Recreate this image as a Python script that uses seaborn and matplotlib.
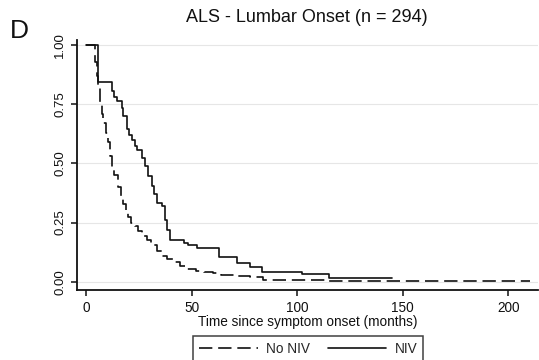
import numpy as np
import pandas as pd
import matplotlib
matplotlib.use("Agg")
import matplotlib.pyplot as plt
import seaborn as sns
from matplotlib.lines import Line2D

# Kaplan-Meier step data
no_niv_time = [0, 4.3, 5.0, 5.8, 6.8, 7.5, 8.2, 9.3, 10.6, 11.4, 12.2, 13.5, 15.3, 16.5,
               17.7, 19.0, 20.1, 21.5, 23.0, 24.5, 26.5, 28.8, 31.0, 33.5, 36.0, 38.3,
               41.0, 44.6, 48.0, 52.0, 56.0, 60.0, 64.0, 70.0, 77.8, 84.0, 115.0, 210.0]
no_niv_surv = [1.0, 0.93, 0.87, 0.82, 0.76, 0.71, 0.67, 0.63, 0.59, 0.53, 0.48, 0.45, 0.40, 0.36,
               0.33, 0.30, 0.275, 0.25, 0.235, 0.215, 0.195, 0.177, 0.155, 0.13, 0.11, 0.095,
               0.083, 0.066, 0.055, 0.046, 0.040, 0.035, 0.030, 0.026, 0.020, 0.008, 0.002, 0.002]

niv_time = [0, 5.7, 12.2, 13.5, 14.6, 16.9, 17.7, 19.3, 20.5, 21.7, 23.0, 24.1, 26.4, 28.0,
            29.6, 31.2, 32.3, 33.5, 35.9, 37.5, 38.6, 40.0, 46.5, 48.5, 52.5, 62.8, 71.5,
            77.8, 83.3, 102.5, 115.0, 145.0]
niv_surv = [1.0, 0.843, 0.805, 0.78, 0.763, 0.735, 0.70, 0.643, 0.62, 0.60, 0.575, 0.558, 0.523, 0.487,
            0.445, 0.403, 0.37, 0.332, 0.318, 0.261, 0.219, 0.177, 0.165, 0.155, 0.141, 0.106, 0.078,
            0.064, 0.042, 0.031, 0.017, 0.017]

groups = ["No NIV", "NIV"]
title = "ALS - Lumbar Onset (n = 294)"
xlabel = "Time since symptom onset (months)"
xticks = [0, 50, 100, 150, 200]
yticks = [0.0, 0.25, 0.5, 0.75, 1.0]
ytick_labels = ["0.00", "0.25", "0.50", "0.75", "1.00"]

df = pd.concat([
    pd.DataFrame({"time": no_niv_time, "surv": no_niv_surv, "group": groups[0]}),
    pd.DataFrame({"time": niv_time, "surv": niv_surv, "group": groups[1]}),
])

sns.set_style("white")
plt.rcParams["font.family"] = ["Liberation Sans", "DejaVu Sans"]

fig = plt.figure(figsize=(5.39, 3.6), dpi=100)
ax = fig.add_axes([77.3 / 539, 1 - 289.5 / 360, (538 - 77.3) / 539, (289.5 - 40) / 360])

dash_map = {"No NIV": (8, 3.5), "NIV": ""}
sns.lineplot(data=df, x="time", y="surv", style="group", dashes=dash_map,
             color="#111111", linewidth=1.2, drawstyle="steps-post",
             estimator=None, legend=False, ax=ax)

ax.set_xlim(-4.1, 214)
ax.set_ylim(-0.033, 1.021)
ax.set_xticks(xticks)
ax.set_xticklabels([str(t) for t in xticks], fontsize=9.8)
ax.set_yticks(yticks)
ax.set_yticklabels(ytick_labels, fontsize=9.5, rotation=90, va="center")
for y in yticks:
    ax.axhline(y, color="#e6e6e6", linewidth=0.8, zorder=0)

for s in ["top", "right"]:
    ax.spines[s].set_visible(False)
for s in ["left", "bottom"]:
    ax.spines[s].set_color("#111111")
    ax.spines[s].set_linewidth(1.3)
ax.tick_params(axis="both", direction="out", length=4, width=1.1, color="#111111",
               bottom=True, left=True, labelcolor="#111111")
ax.tick_params(axis="x", pad=4.5)
ax.tick_params(axis="y", pad=4)

ax.set_xlabel(xlabel, fontsize=9.8, labelpad=0, color="#111111")
ax.set_ylabel("")

fig.text(0.569, 1 - 17 / 360, title, ha="center", va="center", fontsize=13, color="#111111")
fig.text(0.018, 1 - 31 / 360, "D", ha="left", va="center", fontsize=19, color="#111111")

handles = [Line2D([], [], color="#111111", linewidth=1.2, dashes=(8, 3.5)),
           Line2D([], [], color="#111111", linewidth=1.2)]
leg = fig.legend(handles, groups, loc="upper center", bbox_to_anchor=(0.572, 1 - 336 / 360),
                 ncol=2, frameon=True, fancybox=False, fontsize=9.8, handlelength=4.3,
                 columnspacing=1.3, handletextpad=0.6, borderpad=0.45, borderaxespad=0)
leg.get_frame().set_edgecolor("#111111")
leg.get_frame().set_linewidth(1.1)

fig.savefig("out.png", dpi=100)
